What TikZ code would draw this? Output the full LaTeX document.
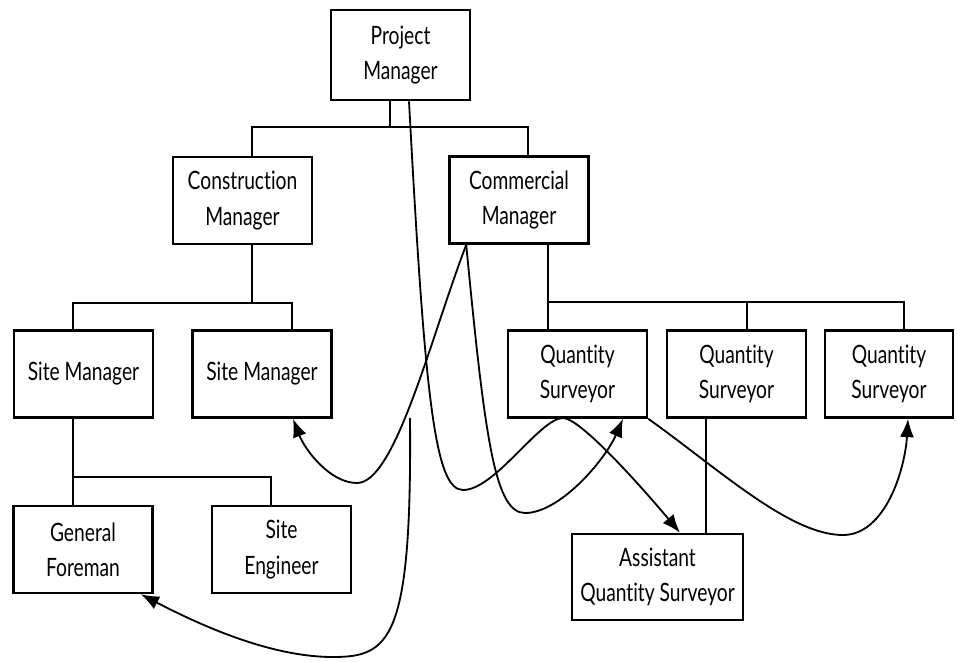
\documentclass[tikz,border=0pt]{standalone}
\usepackage{fontspec}
\newfontfamily\orgfont{Lato}[FakeStretch=0.76, Ligatures={NoCommon}]
\usetikzlibrary{arrows.meta}

\tikzset{
  post/.style={draw, line width=1.8pt, inner sep=0pt, align=center,
    minimum width=3.475cm, minimum height=2.175cm,
    font=\orgfont\fontsize{18}{25}\selectfont},
  link/.style={line width=1.5pt},
  loop/.style={line width=1.3pt, ->},
}

\begin{document}
\begin{tikzpicture}[x=0.025cm, y=-0.025cm, >={Latex[length=13pt,width=10pt]}]
			\useasboundingbox (0,0) rectangle (957,662);

			\node[post, minimum height=2.25cm] (PM) at (400.5,55) {Project\\Manager};

			\node[post] (CM) at (242.5,200.5) {Construction\\Manager};
			\node[post] (ComM) at (519,200) {Commercial\\Manager};

			\node[post] (SM1) at (83.5,374) {Site Manager};
			\node[post] (SM2) at (262,374) {Site Manager};
			\node[post] (QS1) at (577.5,374) {Quantity\\Surveyor};
			\node[post] (QS2) at (736.5,374) {Quantity\\Surveyor};
			\node[post, minimum width=3.2cm] (QS3) at (889,374) {Quantity\\Surveyor};

			\node[post] (GF) at (83,549.5) {General\\Foreman};
			\node[post] (SE) at (281.5,549.5) {Site\\Engineer};
			\node[post, minimum width=4.275cm, minimum height=2.15cm] (AQS) at (657.5,577) {Assistant\\Quantity Surveyor};

			% junctions of the tree
			\coordinate (J1) at (390,127);
			\coordinate (J2) at (252,127);
			\coordinate (J3) at (528,127);
			\coordinate (J4) at (73,303);
			\coordinate (J5) at (292,303);
			\coordinate (J6) at (548,302);
			\coordinate (J7) at (747,302);
			\coordinate (J8) at (904,302);
			\coordinate (J9) at (73,477);
			\coordinate (J10) at (271,477);
			\coordinate (J11) at (706,417);
			\coordinate (loose) at (410,418);

			\draw[link] (PM.south -| J1) -- (J1);
			\draw[link] (CM.north -| J2) |- (J3) -- (ComM.north -| J3);

			\draw[link] (CM.south -| J2) -- (J2 |- J4);
			\draw[link] (SM1.north -| J4) |- (J5) -- (SM2.north -| J5);

			\draw[link] (ComM.south -| J6) -- (QS1.north -| J6);
			\draw[link] (J6) -- (J8) -- (QS3.north -| J8);
			\draw[link] (J7) -- (QS2.north -| J7);

			\draw[link] (SM1.south -| J9) -- (GF.north -| J9);
			\draw[link] (J9) -| (SE.north -| J10);

			\draw[link] (QS2.south -| J11) -- (AQS.north -| J11);

			% the loops
			\draw[loop] ([xshift=0.2125cm]PM.south) .. controls (425,400) and (435,490) .. (463,490)
				.. controls (495,490) and (540,418) .. (563,418)
				.. controls (580,418) and (640,485) .. ([xshift=0.5625cm]AQS.north);
			\draw[loop] ([xshift=0.45cm]ComM.south west) .. controls (485,440) and (495,513) .. (525,513)
				.. controls (560,513) and (605,460) .. ([xshift=1.1375cm]QS1.south);
			\draw[loop] ([xshift=0.45cm]ComM.south west) .. controls (430,340) and (395,483) .. (357,483)
				.. controls (330,483) and (305,450) .. ([xshift=0.775cm]SM2.south);
			\draw[loop] (loose) .. controls (412,640) and (390,657) .. (333,657)
				.. controls (270,657) and (200,625) .. ([xshift=-0.325cm]GF.south east);
			\draw[loop] (QS1.south east) .. controls (720,470) and (790,535) .. (843,535)
				.. controls (885,535) and (905,470) .. ([xshift=0.475cm]QS3.south);
		\end{tikzpicture}
\end{document}
